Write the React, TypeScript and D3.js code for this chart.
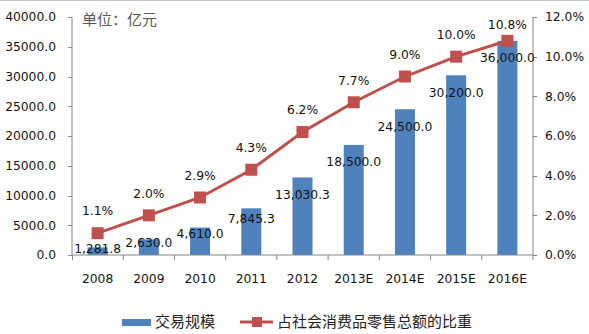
import React from "react";
import * as d3 from "d3";

const categories = ["2008", "2009", "2010", "2011", "2012", "2013E", "2014E", "2015E", "2016E"];
const volume = [1281.8, 2630.0, 4610.0, 7845.3, 13030.3, 18500.0, 24500.0, 30200.0, 36000.0];
const share = [1.1, 2.0, 2.9, 4.3, 6.2, 7.7, 9.0, 10.0, 10.8];
const leftTicks = [0, 5000, 10000, 15000, 20000, 25000, 30000, 35000, 40000];
const rightTicks = [0, 2, 4, 6, 8, 10, 12];
const seriesNames = ["交易规模", "占社会消费品零售总额的比重"];
const unitLabel = "单位：亿元";

const W = 589, H = 334;
const left = 72, right = 533, top = 17, bottom = 255;
const font = "'DejaVu Sans', Verdana, sans-serif";
const cjk = "'Noto Sans CJK SC', 'Noto Sans', sans-serif";
const blue = "#4F81BD";
const red = "#C0504D";
const axisColor = "#868686";
const fs = 12.3;

export default function App() {
  const x = d3.scaleBand<string>().domain(categories).range([left, right]);
  const yL = d3.scaleLinear().domain([0, 40000]).range([bottom, top]);
  const yR = d3.scaleLinear().domain([0, 12]).range([bottom, top]);
  const barW = 20;
  const cx = (c: string) => (x(c) as number) + x.bandwidth() / 2;
  const fmt = d3.format(",.1f");
  const line = d3.line<number>().x((_, i) => cx(categories[i])).y((d) => yR(d));

  return (
    <svg width={W} height={H} style={{ position: "absolute", left: 0, top: 0, background: "#fff" }}>
      <line x1={0} x2={W} y1={0.5} y2={0.5} stroke="#c8c8c8" />
      {volume.map((v, i) => (
        <rect key={i} x={cx(categories[i]) - barW / 2} y={yL(v)} width={barW} height={bottom - yL(v)} fill={blue} />
      ))}
      <line x1={left} x2={left} y1={top} y2={bottom} stroke={axisColor} />
      <line x1={right} x2={right} y1={top} y2={bottom} stroke={axisColor} />
      <line x1={left} x2={right} y1={bottom} y2={bottom} stroke={axisColor} />
      {leftTicks.map((t) => (
        <g key={t}>
          <line x1={left - 4} x2={left} y1={Math.round(yL(t)) + 0.5} y2={Math.round(yL(t)) + 0.5} stroke={axisColor} />
          <text x={56} y={yL(t)} dy="0.35em" textAnchor="end" fontFamily={font} fontSize={fs} fill="#111">
            {d3.format(".1f")(t)}
          </text>
        </g>
      ))}
      {rightTicks.map((t) => (
        <g key={t}>
          <line x1={right} x2={right + 4} y1={Math.round(yR(t)) + 0.5} y2={Math.round(yR(t)) + 0.5} stroke={axisColor} />
          <text x={545} y={yR(t)} dy="0.35em" textAnchor="start" fontFamily={font} fontSize={fs} fill="#111">
            {d3.format(".1f")(t) + "%"}
          </text>
        </g>
      ))}
      {categories.map((c, i) => (
        <g key={c}>
          <line x1={(x(c) as number) + (i === 0 ? 0.5 : 0)} x2={(x(c) as number) + (i === 0 ? 0.5 : 0)} y1={bottom} y2={bottom + 5} stroke={axisColor} />
          <text x={cx(c)} y={279} dy="0.35em" textAnchor="middle" fontFamily={font} fontSize={fs} fill="#111">
            {c}
          </text>
        </g>
      ))}
      <line x1={right} x2={right} y1={bottom} y2={bottom + 5} stroke={axisColor} />
      <path d={line(share) || ""} fill="none" stroke={red} strokeWidth={3} />
      {share.map((s, i) => (
        <rect key={i} x={cx(categories[i]) - 6} y={yR(s) - 6} width={12} height={12} fill={red} />
      ))}
      {volume.map((v, i) => {
        const off = 17 * Math.min(1, v / 13000);
        return (
          <text key={i} x={cx(categories[i])} y={yL(v) + off} dy="0.35em" textAnchor="middle" fontFamily={font} fontSize={fs} fill="#111">
            {fmt(v)}
          </text>
        );
      })}
      {share.map((s, i) => {
        const off = i === 8 ? 16 : 22;
        return (
          <text key={i} x={cx(categories[i])} y={yR(s) - off} dy="0.35em" textAnchor="middle" fontFamily={font} fontSize={fs} fill="#111">
            {d3.format(".1f")(s) + "%"}
          </text>
        );
      })}
      <text x={82} y={20} dy="0.35em" fontFamily={cjk} fontSize={15} fill="#595959">
        {unitLabel}
      </text>
      <rect x={122} y={319} width={29} height={7} fill={blue} />
      <text x={155} y={322} dy="0.35em" fontFamily={cjk} fontSize={15} fill="#222">
        {seriesNames[0]}
      </text>
      <line x1={240} x2={273} y1={322} y2={322} stroke={red} strokeWidth={3} />
      <rect x={252} y={317} width={10} height={10} fill={red} />
      <text x={277} y={322} dy="0.35em" fontFamily={cjk} fontSize={15} fill="#222">
        {seriesNames[1]}
      </text>
    </svg>
  );
}
